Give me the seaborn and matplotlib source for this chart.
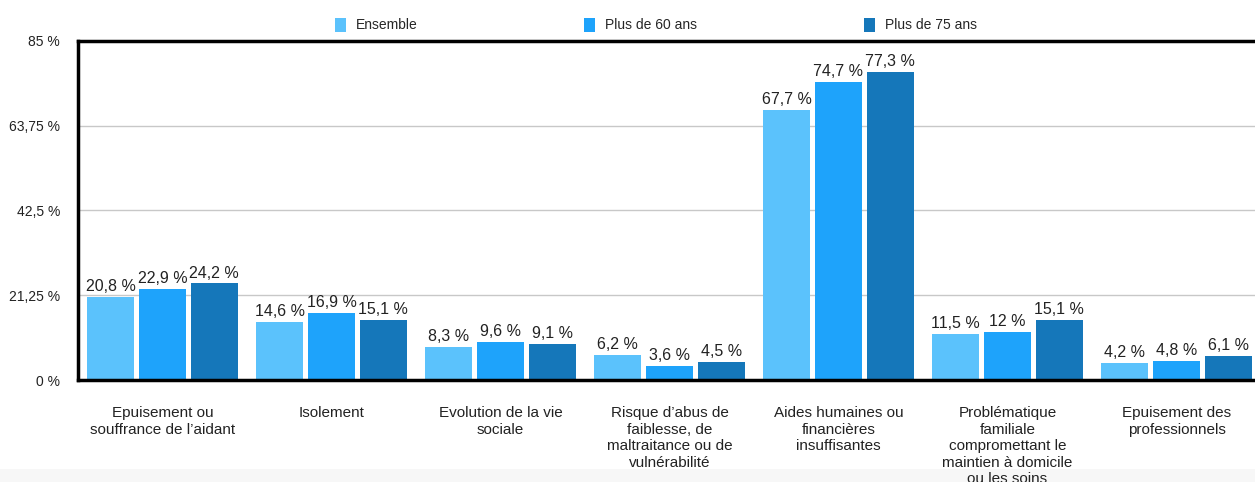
import matplotlib
matplotlib.use("Agg")
import matplotlib.pyplot as plt
import seaborn as sns
import pandas as pd
from matplotlib.patches import Rectangle, Patch

categories = [
    "Epuisement ou\nsouffrance de l’aidant",
    "Isolement",
    "Evolution de la vie\nsociale",
    "Risque d’abus de\nfaiblesse, de\nmaltraitance ou de\nvulnérabilité",
    "Aides humaines ou\nfinancières\ninsuffisantes",
    "Problématique\nfamiliale\ncompromettant le\nmaintien à domicile\nou les soins",
    "Epuisement des\nprofessionnels",
]
series_names = ["Ensemble", "Plus de 60 ans", "Plus de 75 ans"]
ensemble = [20.8, 14.6, 8.3, 6.2, 67.7, 11.5, 4.2]
plus60 = [22.9, 16.9, 9.6, 3.6, 74.7, 12.0, 4.8]
plus75 = [24.2, 15.1, 9.1, 4.5, 77.3, 15.1, 6.1]
yticks = [0, 21.25, 42.5, 63.75, 85]
ytick_labels = ["0 %", "21,25 %", "42,5 %", "63,75 %", "85 %"]

colors = ["#5BC2FC", "#1EA3FB", "#1577BA"]

sns.set_theme(style="white")
plt.rcParams["font.family"] = ["Liberation Sans", "DejaVu Sans"]

rows = []
for name, vals in zip(series_names, [ensemble, plus60, plus75]):
    for c, v in zip(categories, vals):
        rows.append({"cat": c, "serie": name, "val": v})
df = pd.DataFrame(rows)

fig = plt.figure(figsize=(12.55, 4.82), dpi=100)
fig.patch.set_facecolor("white")
fig.patches.append(Rectangle((0, 0), 1, 13 / 482, transform=fig.transFigure,
                             facecolor="#f7f7f7", edgecolor="none", zorder=-10))
ax = fig.add_axes([78 / 1255, 1 - 380 / 482, 1183 / 1255, 339 / 482])

sns.barplot(data=df, x="cat", y="val", hue="serie", order=categories,
            hue_order=series_names, palette=colors, width=0.92, gap=0.1,
            saturation=1, edgecolor="none", ax=ax, legend=False)

def fmt(v):
    s = f"{v:.1f}"
    if s.endswith(".0"):
        s = s[:-2]
    return s.replace(".", ",") + " %"

for cont, vals in zip(ax.containers, [ensemble, plus60, plus75]):
    ax.bar_label(cont, labels=[fmt(v) for v in vals], padding=2,
                 fontsize=11.5, color="#222222")

ax.set_xlim(-0.5, 6.5)
ax.set_ylim(0, 85)
ax.set_yticks(yticks)
ax.set_yticklabels(ytick_labels)
ax.set_xlabel("")
ax.set_ylabel("")
ax.tick_params(axis="y", length=0, pad=13, labelsize=10, labelcolor="#222222")
ax.tick_params(axis="x", length=0, pad=19, labelsize=11, labelcolor="#222222")
for lab in ax.get_xticklabels():
    lab.set_linespacing(1.22)
    lab.set_verticalalignment("top")

ax.yaxis.grid(True, color="#c8c8c8", linewidth=1)
ax.set_axisbelow(True)
for side in ["left", "top", "bottom"]:
    ax.spines[side].set_visible(True)
    ax.spines[side].set_color("black")
    ax.spines[side].set_linewidth(2.5)
ax.spines["right"].set_visible(False)

handles = [Patch(facecolor=c, edgecolor="none") for c in colors]
fig.legend(handles, series_names, loc="center", bbox_to_anchor=(0.5225, 1 - 25 / 482),
           ncol=3, frameon=False, fontsize=10, handlelength=0.8, handleheight=1.2,
           handletextpad=0.7, columnspacing=12.0)

fig.savefig("out.png", dpi=100)
